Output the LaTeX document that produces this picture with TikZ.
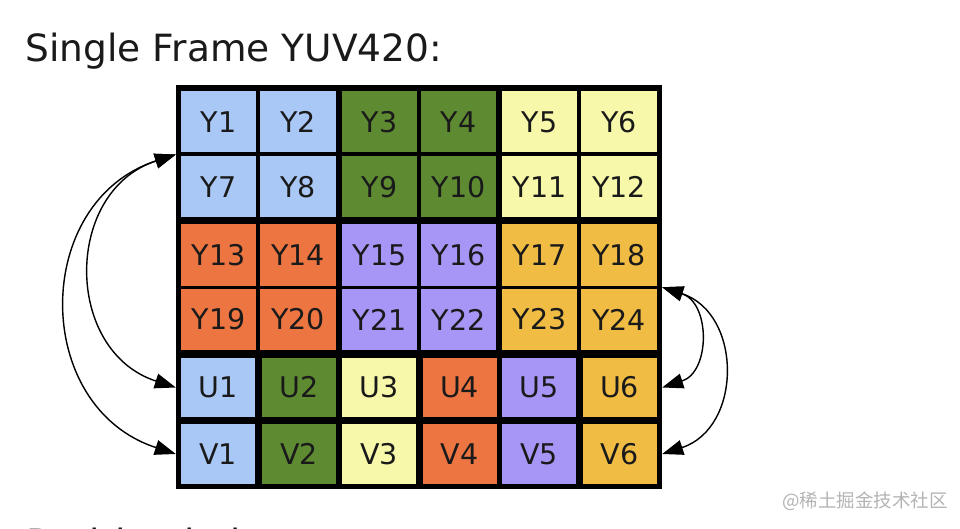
\documentclass[tikz,border=0pt]{standalone}
\usepackage{fontspec}
\setmainfont{DejaVu Sans}
\newfontfamily\cjk{Noto Sans CJK SC}
\usetikzlibrary{arrows.meta,calc}
\definecolor{cblue}{HTML}{A9C8F5}
\definecolor{cgreen}{HTML}{5E8B32}
\definecolor{cyellow}{HTML}{F8F8AA}
\definecolor{cred}{HTML}{EC7542}
\definecolor{cpurple}{HTML}{A796F5}
\definecolor{corange}{HTML}{F0BC44}
\definecolor{ctext}{HTML}{1A1A1A}
\definecolor{cwm}{HTML}{B4B4B4}
\begin{document}
\begin{tikzpicture}[x=1pt,y=1pt,
  cellbase/.style={rectangle,inner sep=0pt,draw=none,text=ctext,
    font=\fontsize{28.5}{30}\selectfont},
  ycell/.style={cellbase,minimum width=75.5pt,minimum height=61pt},
  uvcell/.style={cellbase,minimum width=74pt,minimum height=59.5pt},
  conn/.style={line width=1.4pt,black,
    {Triangle[length=21pt,width=15pt]}-{Triangle[length=21pt,width=15pt]}},
  titletext/.style={inner sep=0pt,anchor=base west,font=\fontsize{37.5}{40}\selectfont,text=ctext}]
\useasboundingbox (0,0) rectangle (960,528);
\clip (0,0) rectangle (960,528);
\fill[white] (0,0) rectangle (960,528);

\node[titletext] (title) at (25.5,466.5) {Single Frame YUV420:};
\node[titletext] (bottom) at (26,-28.5) {Position in byte stream:};

% black frame
\node[rectangle,fill=black,inner sep=0pt,minimum width=486pt,minimum height=404pt] (frame) at (419,241) {};

% Y cells
\foreach \n/\x/\y/\c in {
  1/218.5/406/cblue, 2/298/406/cblue, 3/379.5/406/cgreen, 4/458.5/406/cgreen, 5/539.5/406/cyellow, 6/619/406/cyellow,
  7/218.5/341/cblue, 8/298/341/cblue, 9/379.5/341/cgreen, 10/458.5/341/cgreen, 11/539.5/341/cyellow, 12/619/341/cyellow,
  13/218.5/273/cred, 14/298/273/cred, 15/379.5/273/cpurple, 16/458.5/273/cpurple, 17/539.5/273/corange, 18/619/273/corange,
  19/218.5/208.5/cred, 20/298/208.5/cred, 21/379.5/208.5/cpurple, 22/458.5/208.5/cpurple, 23/539.5/208.5/corange, 24/619/208.5/corange}
  \node[ycell,fill=\c] (Y\n) at (\x,\y) {Y\n};

% U and V cells
\foreach \n/\x/\c in {1/218/cblue, 2/299/cgreen, 3/379/cyellow, 4/459.5/cred, 5/539/cpurple, 6/619.5/corange}{
  \node[uvcell,fill=\c] (U\n) at (\x,140.5) {U\n};
  \node[uvcell,fill=\c] (V\n) at (\x,74) {V\n};
}

% connector end points
\coordinate (mL) at ($(Y1.south)!.5!(Y7.north)$);
\coordinate (aL) at (frame.west |- mL);
\coordinate (uL) at (frame.west |- U1);
\coordinate (vL) at (frame.west |- V1);
\coordinate (mR) at ($(Y18.south)!.5!(Y24.north)$);
\coordinate (aR) at (frame.east |- mR);
\coordinate (uR) at (frame.east |- U6);
\coordinate (vR) at (frame.east |- V6);

\draw[conn] (aL) to[out=198,in=162,looseness=1.3] (uL);
\draw[conn] (aL) to[out=198,in=162,looseness=1.3] (vL);
\draw[conn] (aR) to[out=-18,in=18,looseness=1.3] (uR);
\draw[conn] (aR) to[out=-18,in=18,looseness=1.3] (vR);

% watermark
\node[inner sep=0pt,anchor=west,text=cwm,font=\cjk\fontsize{18.5}{21}\selectfont] (wm) at (782,26.5) {@稀土掘金技术社区};
\end{tikzpicture}
\end{document}
